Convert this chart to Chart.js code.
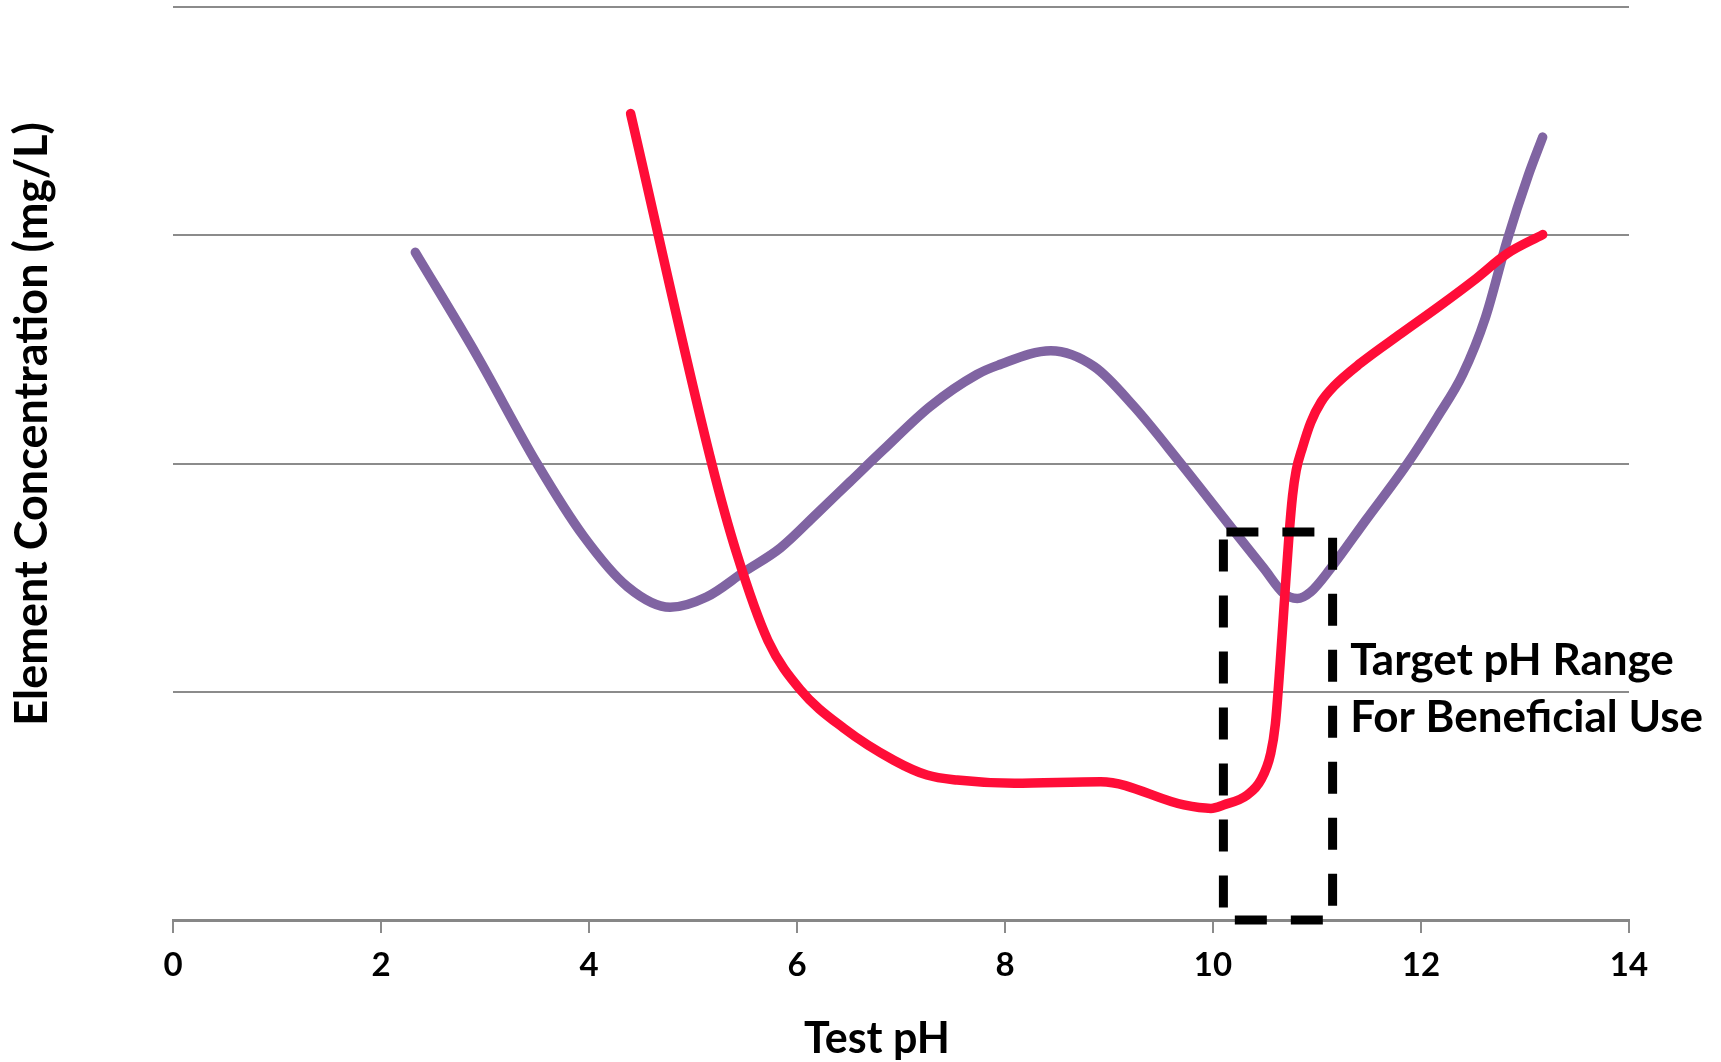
<!DOCTYPE html>
<html>
<head>
<meta charset="utf-8">
<title>Element Concentration vs Test pH</title>
<script src="https://cdn.jsdelivr.net/npm/chart.js@4.4.1/dist/chart.umd.min.js"></script>
<style>
  html, body { margin: 0; padding: 0; background: #ffffff; }
  #wrap { width: 1721px; height: 1062px; }
</style>
</head>
<body>
<div id="wrap"><canvas id="chart" width="1721" height="1062"></canvas></div>
<script>
// Purple element: pH and concentration readings
const purplePH  = [2.33, 2.92, 3.50, 3.95, 4.37, 4.78, 5.13, 5.49, 5.84, 6.19, 6.51, 6.83, 7.28, 7.73, 7.93, 8.44, 8.86, 9.24, 9.69, 10.17, 10.49, 10.68, 10.81, 10.94, 11.13, 11.47, 11.87, 12.16, 12.40, 12.62, 12.83, 13.03, 13.17];
const purpleVal = [2.925, 2.475, 2.00, 1.68, 1.46, 1.37, 1.415, 1.525, 1.63, 1.78, 1.92, 2.06, 2.25, 2.39, 2.43, 2.494, 2.424, 2.25, 2.00, 1.723, 1.54, 1.431, 1.409, 1.438, 1.54, 1.752, 2.00, 2.205, 2.39, 2.64, 2.98, 3.26, 3.43];

// Red element: pH and concentration readings
const redPH  = [4.40, 5.18, 5.42, 5.72, 6.03, 6.45, 6.93, 7.25, 7.54, 8.09, 8.92, 9.72, 9.98, 10.10, 10.33, 10.46, 10.555, 10.60, 10.645, 10.69, 10.73, 10.765, 10.80, 10.86, 10.94, 11.04, 11.16, 11.42, 11.81, 12.19, 12.51, 12.83, 13.17];
const redVal = [3.533, 2.00, 1.606, 1.225, 1.01, 0.84, 0.70, 0.635, 0.613, 0.599, 0.606, 0.504, 0.489, 0.504, 0.548, 0.613, 0.73, 0.86, 1.12, 1.42, 1.68, 1.86, 1.97, 2.07, 2.18, 2.27, 2.337, 2.44, 2.57, 2.694, 2.803, 2.92, 3.003];

// Target pH range for beneficial use (box corners)
const targetPH  = [10.1, 11.15];
const targetTop = 1.70;

// Axis ticks
const xTicks = [0, 2, 4, 6, 8, 10, 12, 14];
const yGrid  = [0, 1, 2, 3, 4];

const xTitle = 'Test pH';
const yTitle = 'Element Concentration (mg/L)';
const noteLines = ['Target pH Range', 'For Beneficial Use'];

const FONT = 'Lato, "Open Sans", "DejaVu Sans", sans-serif';
const GRID = '#8b8b8b';

function pairs(xs, ys) { return xs.map((x, i) => ({ x: x, y: ys[i] })); }

const boxPoints = [
  { x: targetPH[0], y: targetTop },
  { x: targetPH[1], y: targetTop },
  { x: targetPH[1], y: 0 },
  { x: targetPH[0], y: 0 },
  { x: targetPH[0], y: targetTop }
];

// Axis titles and the range note, drawn as text on the canvas
const textPlugin = {
  id: 'chartText',
  afterDraw(chart, args, opts) {
    const ctx = chart.ctx;
    const xs = chart.scales.x, ys = chart.scales.y;
    ctx.save();
    ctx.fillStyle = '#000000';

    // x axis title
    ctx.font = 'bold 43px ' + FONT;
    ctx.textAlign = 'center';
    ctx.textBaseline = 'alphabetic';
    ctx.fillText(xTitle, opts.xTitleX, opts.xTitleBase);

    // y axis title (rotated)
    ctx.save();
    ctx.translate(opts.yTitleBase, opts.yTitleY);
    ctx.rotate(-Math.PI / 2);
    ctx.font = 'bold 45px ' + FONT;
    ctx.fillText(yTitle, 0, 0);
    ctx.restore();

    // note beside the target range
    ctx.font = 'bold 44px ' + FONT;
    ctx.textAlign = 'left';
    const nx = xs.getPixelForValue(opts.noteAt.x);
    noteLines.forEach((line, i) => {
      const ny = ys.getPixelForValue(opts.noteAt.y[i]);
      ctx.fillText(line, nx, ny);
    });
    ctx.restore();
  }
};

function build() {
  new Chart(document.getElementById('chart'), {
    type: 'line',
    data: {
      datasets: [
        {
          label: 'Target range',
          data: boxPoints,
          borderColor: '#000000',
          borderWidth: 9,
          borderDash: [32, 24],
          borderDashOffset: -3,
          borderCapStyle: 'butt',
          borderJoinStyle: 'miter',
          tension: 0,
          pointRadius: 0,
          fill: false,
          clip: false,
          order: 0
        },
        {
          label: 'Red element',
          data: pairs(redPH, redVal),
          borderColor: '#ff0d38',
          borderWidth: 9.5,
          borderCapStyle: 'round',
          borderJoinStyle: 'round',
          cubicInterpolationMode: 'monotone',
          pointRadius: 0,
          fill: false,
          order: 1
        },
        {
          label: 'Purple element',
          data: pairs(purplePH, purpleVal),
          borderColor: '#8064a2',
          borderWidth: 9.5,
          borderCapStyle: 'round',
          borderJoinStyle: 'round',
          cubicInterpolationMode: 'monotone',
          pointRadius: 0,
          fill: false,
          order: 2
        }
      ]
    },
    options: {
      responsive: false,
      animation: false,
      devicePixelRatio: 1,
      layout: { padding: { top: 7, right: 92, left: 0, bottom: 0 } },
      plugins: {
        legend: { display: false },
        tooltip: { enabled: false },
        chartText: {
          xTitleX: 877,
          xTitleBase: 1053,
          yTitleBase: 47,
          yTitleY: 424,
          noteAt: { x: 11.32, y: [1.073, 0.823] }
        }
      },
      scales: {
        x: {
          type: 'linear',
          min: xTicks[0],
          max: xTicks[xTicks.length - 1],
          afterBuildTicks(scale) { scale.ticks = xTicks.map(v => ({ value: v })); },
          afterFit(scale) { scale.height = 142; },
          border: { display: true, color: '#878787', width: 3 },
          grid: {
            drawOnChartArea: false,
            drawTicks: true,
            tickLength: 13,
            color: GRID,
            lineWidth: 2
          },
          ticks: {
            color: '#000000',
            font: { family: FONT, size: 33, weight: 'bold' },
            padding: 13,
            maxRotation: 0,
            autoSkip: false
          },
          title: { display: false }
        },
        y: {
          type: 'linear',
          min: yGrid[0],
          max: yGrid[yGrid.length - 1],
          afterBuildTicks(scale) { scale.ticks = yGrid.map(v => ({ value: v })); },
          afterFit(scale) { scale.width = 173; },
          border: { display: false },
          grid: {
            drawTicks: false,
            color: GRID,
            lineWidth: 2
          },
          ticks: { display: false },
          title: { display: false }
        }
      }
    },
    plugins: [textPlugin]
  });
}

if (document.fonts && document.fonts.load) {
  Promise.all([
    document.fonts.load('bold 43px Lato'),
    document.fonts.load('bold 33px Lato')
  ]).then(build, build);
} else {
  build();
}
</script>
</body>
</html>
